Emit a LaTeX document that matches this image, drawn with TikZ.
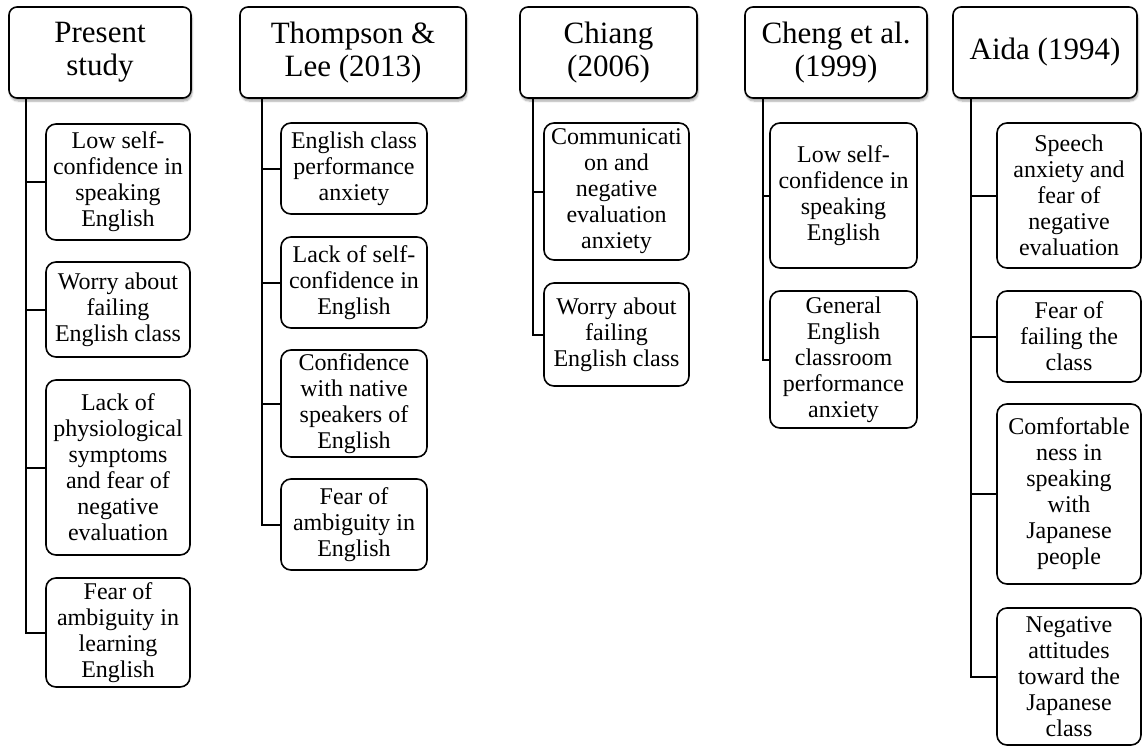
\documentclass[tikz,border=0pt]{standalone}
\usepackage{fontspec}
\setmainfont{Liberation Serif}
\usetikzlibrary{shadows.blur}
\tikzset{
  head/.style={draw, line width=1.6pt, rounded corners=8pt, fill=white, align=center,
    inner sep=0pt, font=\fontsize{31}{33}\selectfont,
    blur shadow={shadow xshift=1pt, shadow yshift=-3pt, shadow blur steps=6, shadow opacity=35}},
  child/.style={draw, line width=1.6pt, rounded corners=10pt, fill=white, align=center,
    inner sep=0pt, font=\fontsize{24}{26}\selectfont},
  conn/.style={line width=2pt}
}
\begin{document}
\begin{tikzpicture}[x=1pt,y=-1pt]
\useasboundingbox (0,0) rectangle (1143,747);
% headers
\node[head, minimum width=182pt, minimum height=91pt] (h1) at (100,52.5) {Present\\study};
\node[head, minimum width=226pt, minimum height=91pt] (h2) at (353,52.5) {Thompson \&\\Lee (2013)};
\node[head, minimum width=177pt, minimum height=91pt] (h3) at (608.5,52.5) {Chiang\\(2006)};
\node[head, minimum width=182pt, minimum height=91pt] (h4) at (836,52.5) {Cheng et al.\\(1999)};
\node[head, minimum width=184pt, minimum height=91pt] (h5) at (1045,52.5) {Aida (1994)};
% column 1
\node[child, minimum width=144pt, minimum height=116pt] (c11) at (118,182) {Low self-\\confidence in\\speaking\\English};
\node[child, minimum width=144pt, minimum height=95pt] (c12) at (118,309.5) {Worry about\\failing\\English class};
\node[child, minimum width=144pt, minimum height=175pt] (c13) at (118,467.5) {Lack of\\physiological\\symptoms\\and fear of\\negative\\evaluation};
\node[child, minimum width=144pt, minimum height=109pt] (c14) at (118,632.5) {Fear of\\ambiguity in\\learning\\English};
% column 2
\node[child, minimum width=146pt, minimum height=91pt] (c21) at (354,168.5) {English class\\performance\\anxiety};
\node[child, minimum width=146pt, minimum height=91pt] (c22) at (354,282.5) {Lack of self-\\confidence in\\English};
\node[child, minimum width=146pt, minimum height=107pt] (c23) at (354,403.5) {Confidence\\with native\\speakers of\\English};
\node[child, minimum width=146pt, minimum height=91pt] (c24) at (354,524.5) {Fear of\\ambiguity in\\English};
% column 3
\node[child, minimum width=145pt, minimum height=137pt] (c31) at (616.5,191.5) {Communicati\\on and\\negative\\evaluation\\anxiety};
\node[child, minimum width=145pt, minimum height=103pt] (c32) at (616.5,334.5) {Worry about\\failing\\English class};
% column 4
\node[child, minimum width=147pt, minimum height=145pt] (c41) at (843.5,195.5) {Low self-\\confidence in\\speaking\\English};
\node[child, minimum width=147pt, minimum height=137pt] (c42) at (843.5,359.5) {General\\English\\classroom\\performance\\anxiety};
% column 5
\node[child, minimum width=144pt, minimum height=145pt] (c51) at (1069,195.5) {Speech\\anxiety and\\fear of\\negative\\evaluation};
\node[child, minimum width=144pt, minimum height=91pt] (c52) at (1069,336.5) {Fear of\\failing the\\class};
\node[child, minimum width=144pt, minimum height=180pt] (c53) at (1069,494) {Comfortable\\ness in\\speaking\\with\\Japanese\\people};
\node[child, minimum width=144pt, minimum height=137pt] (c54) at (1069,676.5) {Negative\\attitudes\\toward the\\Japanese\\class};
% connectors
\foreach \c in {c11,c12,c13,c14} \draw[conn] ([xshift=18pt]h1.south west) |- (\c.west);
\foreach \c in {c21,c22,c23,c24} \draw[conn] ([xshift=23pt]h2.south west) |- (\c.west);
\foreach \c in {c31,c32} \draw[conn] ([xshift=14pt]h3.south west) |- (\c.west);
\foreach \c in {c41,c42} \draw[conn] ([xshift=19pt]h4.south west) |- (\c.west);
\foreach \c in {c51,c52,c53,c54} \draw[conn] ([xshift=19pt]h5.south west) |- (\c.west);
\end{tikzpicture}
\end{document}
